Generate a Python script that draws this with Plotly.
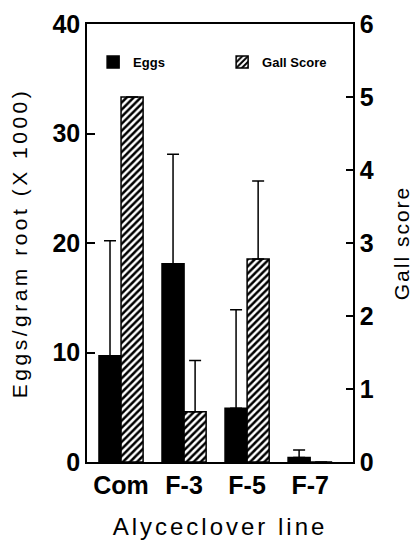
import plotly.graph_objects as go

# ---- data ----
lines = ["Com", "F-3", "F-5", "F-7"]
eggs = [9.7, 18.1, 4.9, 0.4]          # Eggs/gram root (x1000)
eggs_err = [10.5, 10.0, 9.0, 0.7]
gall = [5.0, 0.69, 2.78, 0.0]         # Gall score
gall_err = [0.0, 0.7, 1.07, 0.0]
y_ticks = [0, 10, 20, 30, 40]
y2_ticks = [0, 1, 2, 3, 4, 5, 6]

FONT = "Liberation Sans, Arial, Helvetica, sans-serif"
BLACK = "black"

fig = go.Figure()
fig.add_trace(go.Bar(
    x=lines, y=eggs, name="Eggs", yaxis="y",
    width=0.35, offset=-0.35,
    marker=dict(color=BLACK, line=dict(color=BLACK, width=1.5)),
    error_y=dict(type="data", symmetric=False, array=eggs_err,
                 arrayminus=[0] * len(eggs), color=BLACK,
                 thickness=1.5, width=6),
))
fig.add_trace(go.Bar(
    x=lines, y=gall, name="Gall Score", yaxis="y2",
    width=0.35, offset=0,
    marker=dict(color="white", line=dict(color=BLACK, width=1.5),
                pattern=dict(shape="/", fgcolor=BLACK, bgcolor="white",
                             size=5, solidity=0.5)),
    error_y=dict(type="data", symmetric=False, array=gall_err,
                 arrayminus=[0] * len(gall), color=BLACK,
                 thickness=1.5, width=6),
))

fig.update_layout(
    template="none",
    width=417, height=541,
    margin=dict(l=87, r=64, t=24, b=79, autoexpand=False),
    paper_bgcolor="white", plot_bgcolor="white",
    font=dict(family=FONT, color=BLACK),
    showlegend=True,
    legend=dict(orientation="h", x=0.023, y=0.913, xanchor="left",
                yanchor="middle", bgcolor="rgba(0,0,0,0)", borderwidth=0,
                font=dict(family=FONT, size=13, color=BLACK, weight="bold"),
                entrywidth=84, entrywidthmode="pixels"),
    xaxis=dict(type="category", range=[-0.54, 3.68], automargin=False,
               showline=True, mirror=True, linecolor=BLACK, linewidth=1.5,
               ticks="", showgrid=False, zeroline=False,
               tickfont=dict(family=FONT, size=25, weight="bold", color=BLACK),
               title=dict(text="Alyceclover line", standoff=20,
                          font=dict(family=FONT, size=24, color=BLACK))),
    yaxis=dict(range=[0, 40], tickvals=y_ticks, ticks="inside", ticklen=8,
               tickwidth=1.5, tickcolor=BLACK, automargin=False,
               showline=True, linecolor=BLACK, linewidth=1.5,
               showgrid=False, zeroline=False,
               tickfont=dict(family=FONT, size=25, weight="bold", color=BLACK),
               title=dict(text="Eggs/gram root (X 1000)", standoff=19,
                          font=dict(family=FONT, size=21, color=BLACK))),
    yaxis2=dict(range=[0, 6], tickvals=y2_ticks, overlaying="y", side="right",
                ticks="inside", ticklen=7, tickwidth=1.5, tickcolor=BLACK,
                automargin=False,
                showline=True, linecolor=BLACK, linewidth=1.5,
                showgrid=False, zeroline=False,
                tickfont=dict(family=FONT, size=25, weight="bold", color=BLACK),
                title=dict(text="Gall score", standoff=22,
                           font=dict(family=FONT, size=21, color=BLACK))),
)

post = """
document.body.style.margin = '0';
document.body.style.padding = '0';
var gd = document.getElementById('{plot_id}');
function spacing(){
  gd.querySelectorAll('.xtitle').forEach(function(e){e.setAttribute('letter-spacing','3px');});
  gd.querySelectorAll('.ytitle').forEach(function(e){e.setAttribute('letter-spacing','3.5px');});
  gd.querySelectorAll('.y2title').forEach(function(e){e.setAttribute('letter-spacing','2px');});
}
spacing();
gd.on('plotly_afterplot', spacing);
"""

fig.write_html("out.html", post_script=post, config={"displayModeBar": False})
